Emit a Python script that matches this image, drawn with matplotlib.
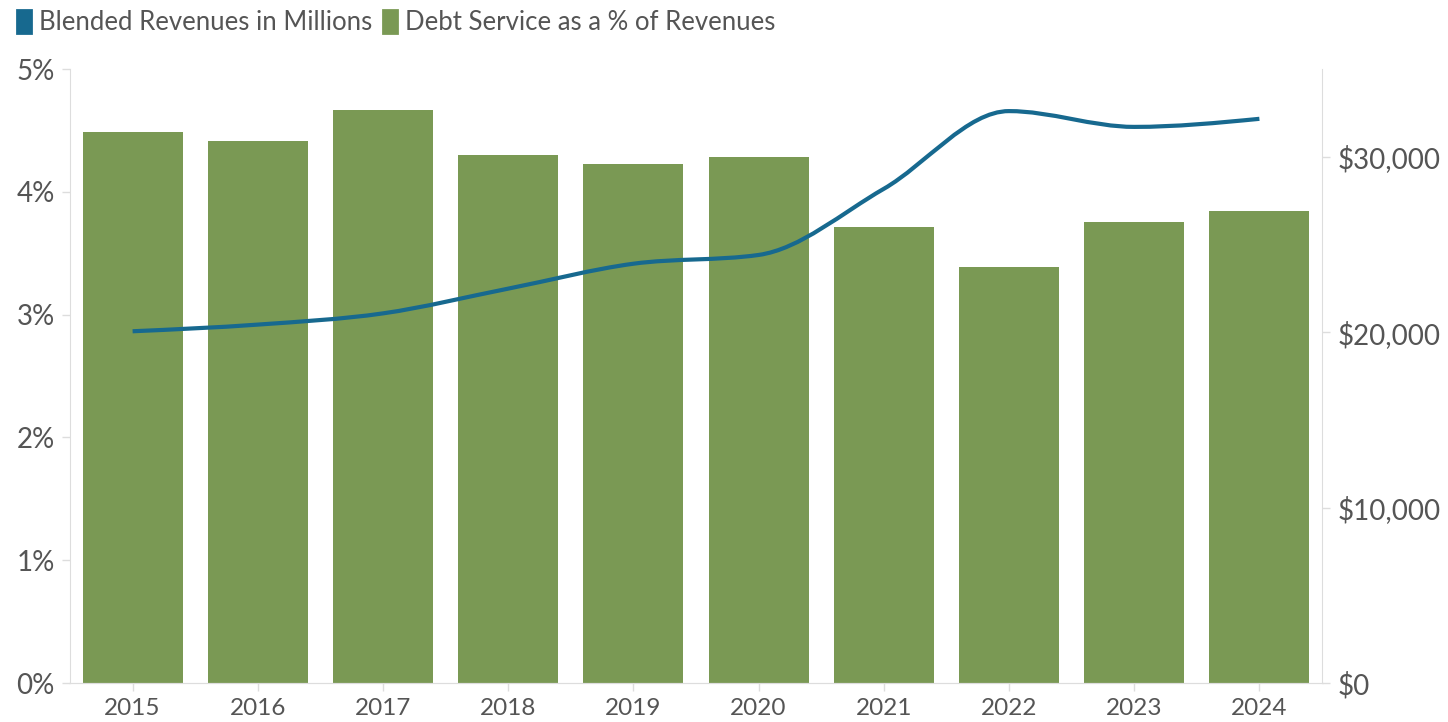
import numpy as np
import matplotlib
matplotlib.use('Agg')
import matplotlib.pyplot as plt
from matplotlib.path import Path
from matplotlib.patches import PathPatch, Patch
from matplotlib.ticker import FuncFormatter

# Dữ liệu
years = ["2015", "2016", "2017", "2018", "2019", "2020", "2021", "2022", "2023", "2024"]
debt_pct = [4.49, 4.41, 4.67, 4.30, 4.23, 4.28, 3.71, 3.39, 3.75, 3.84]
revenues = [20050, 20430, 21070, 22480, 23900, 24400, 28170, 32600, 31700, 32160]

GREEN = "#7a9954"
BLUE = "#17698f"
TEXT = "#555555"
AXIS = "#dddddd"

plt.rcParams['font.family'] = ['Lato', 'DejaVu Sans']


def monotone_path(xs, ys):
    """Đường cong monotone X (kiểu d3) dưới dạng Bezier bậc 3."""
    xs = np.asarray(xs, float)
    ys = np.asarray(ys, float)
    n = len(xs)
    h = np.diff(xs)
    s = np.diff(ys) / h
    t = np.zeros(n)
    for i in range(1, n - 1):
        p = (s[i - 1] * h[i] + s[i] * h[i - 1]) / (h[i - 1] + h[i])
        t[i] = (np.sign(s[i - 1]) + np.sign(s[i])) * min(abs(s[i - 1]), abs(s[i]), 0.5 * abs(p))
    t[0] = (3 * s[0] - t[1]) / 2
    t[-1] = (3 * s[-1] - t[-2]) / 2
    verts = [(xs[0], ys[0])]
    codes = [Path.MOVETO]
    for i in range(n - 1):
        d = h[i] / 3
        verts += [(xs[i] + d, ys[i] + d * t[i]),
                  (xs[i + 1] - d, ys[i + 1] - d * t[i + 1]),
                  (xs[i + 1], ys[i + 1])]
        codes += [Path.CURVE4] * 3
    return Path(verts, codes)


fig = plt.figure(figsize=(14.48, 7.22), dpi=100)
ax = fig.add_axes([70 / 1448, 39 / 722, 1252 / 1448, 614 / 722])
ax2 = ax.twinx()

x = np.arange(len(years))
ax.bar(x, debt_pct, width=0.8, color=GREEN, zorder=2)
ax.set_xlim(-0.5, len(years) - 0.5)
ax.set_ylim(0, 5)
ax.set_yticks(range(6))
ax.yaxis.set_major_formatter(FuncFormatter(lambda v, _: f"{v:.0f}%"))
ax.set_xticks(x)
ax.set_xticklabels(years)

ax2.add_patch(PathPatch(monotone_path(x, revenues), fill=False,
                        edgecolor=BLUE, linewidth=3, capstyle='butt', zorder=3))
ax2.set_ylim(0, 35000)
ax2.set_yticks([0, 10000, 20000, 30000])
ax2.yaxis.set_major_formatter(FuncFormatter(lambda v, _: f"${v:,.0f}"))

for a in (ax, ax2):
    a.spines['top'].set_visible(False)
    a.spines['bottom'].set_color(AXIS)
    a.spines['left'].set_color(AXIS)
    a.spines['right'].set_color(AXIS)
    a.tick_params(colors=AXIS, labelcolor=TEXT, labelsize=20, length=6, width=1)
ax.spines['right'].set_visible(False)
ax2.spines['left'].set_visible(False)
ax.tick_params(axis='y', pad=5)
ax.tick_params(axis='x', labelsize=17.5, pad=5)
ax2.tick_params(axis='y', pad=5)

# Chú thích: ô vuông nhỏ bo góc + chữ
handles = [Patch(facecolor=BLUE, edgecolor=BLUE, joinstyle='round', linewidth=2),
           Patch(facecolor=GREEN, edgecolor=GREEN, joinstyle='round', linewidth=2)]
labels = ["Blended Revenues in Millions", "Debt Service as a % of Revenues"]
leg = fig.legend(handles, labels, loc='upper left', bbox_to_anchor=(-0.004, 1.018),
                 ncol=2, frameon=False, fontsize=18.5, handlelength=0.55, handleheight=1.0,
                 handletextpad=0.3, columnspacing=0.4)
for txt in leg.get_texts():
    txt.set_color(TEXT)

fig.savefig("out.png", dpi=100)
plt.close(fig)
